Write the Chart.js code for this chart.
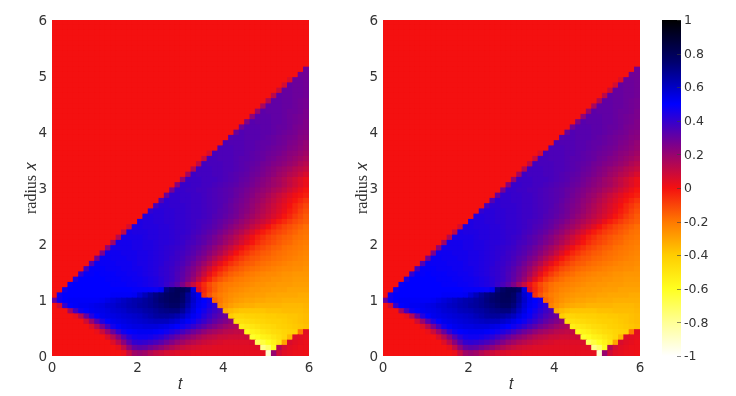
<!DOCTYPE html>
<html><head><meta charset="utf-8">
<style>html,body{margin:0;padding:0;background:#fff;width:736px;height:396px;overflow:hidden}canvas{position:absolute;top:0}</style>
<script src="https://cdn.jsdelivr.net/npm/chart.js@4"></script>
</head><body>
<canvas id="p1" width="320" height="396" style="left:0"></canvas>
<canvas id="p2" width="320" height="396" style="left:331px"></canvas>
<canvas id="cb" width="96" height="396" style="left:640px"></canvas>
<script>
// Field values in hundredths, 64 rows from x near 6 down to x near 0.
// Each row lists its right-hand cells up to t=6; the cells left of a short row hold 0.
const fieldRows=[
[],[],[],[],[],[],[],[],[],
[28],
[28,28],
[5,29,29,28],
[7,30,29,29,28],
[9,30,30,29,29,28],
[12,31,30,30,29,29,28],
[14,31,31,30,30,29,28,27],
[16,31,31,31,30,30,29,28,27],
[19,32,31,31,31,30,29,29,28,26],
[21,32,32,32,31,31,30,29,28,27,26],
[24,33,32,32,32,31,31,30,29,28,27,25],
[27,33,33,33,32,32,31,30,30,29,27,26,25],
[29,34,33,33,33,32,32,31,30,29,28,27,25,24],
[33,34,34,33,33,33,32,31,30,29,28,27,26,24,23],
[35,34,34,34,33,33,32,31,31,30,29,28,26,25,23,21],
[35,35,35,34,34,33,33,32,31,30,29,28,27,25,24,22,20],
[6,36,35,35,35,34,34,33,32,31,30,29,28,27,25,23,22,20,18],
[9,36,36,35,35,35,34,33,33,32,31,30,28,27,25,24,22,20,18,16],
[11,37,36,36,36,35,35,34,33,32,31,30,28,27,25,24,22,20,18,15,13],
[14,37,37,37,36,36,35,35,34,33,32,30,29,27,25,23,21,19,17,14,12,10],
[17,38,37,37,37,36,36,35,34,33,32,31,29,28,26,24,22,19,17,14,12,9,6],
[20,38,38,38,37,37,37,36,35,34,33,31,30,28,26,24,22,19,17,14,11,8,5,2],
[23,39,39,38,38,37,37,36,35,34,33,32,30,29,27,25,23,21,19,17,14,11,8,5,2],
[26,39,39,38,38,37,37,36,35,34,33,32,30,29,27,25,23,21,19,16,14,11,8,5,2,-1],
[29,40,40,39,39,38,38,37,36,35,34,33,32,30,28,26,24,21,19,16,13,10,7,4,1,-1,-3],
[33,41,40,40,39,39,38,38,37,36,35,34,33,31,29,27,25,22,20,17,14,11,8,5,2,-1,-4,-7],
[36,41,41,40,40,40,39,38,38,37,36,35,34,32,30,28,26,24,21,18,15,12,9,6,3,0,-4,-7,-10],
[40,42,42,41,41,40,40,39,38,38,37,36,35,33,32,30,28,25,23,20,17,14,11,8,5,2,-2,-5,-9,-12],
[43,43,42,42,41,41,40,40,39,38,38,37,36,34,33,31,29,27,24,21,18,15,12,9,6,3,-1,-4,-8,-11,-14],
[44,43,43,42,42,41,41,40,40,39,38,37,36,35,33,31,29,27,24,21,18,15,12,9,6,2,-2,-5,-8,-11,-13,-15],
[7,44,44,43,43,43,42,42,41,40,40,39,38,37,35,34,32,30,27,24,21,18,15,11,8,4,0,-4,-7,-10,-12,-14,-16,-18],
[11,45,44,44,44,43,43,42,42,41,40,40,39,37,36,34,32,30,27,24,21,17,14,10,6,2,-2,-5,-8,-10,-12,-14,-16,-18,-19],
[14,45,45,45,45,44,43,43,42,42,41,40,39,38,36,34,32,30,27,24,20,17,13,9,5,1,-3,-6,-9,-11,-13,-15,-16,-18,-19,-20],
[18,46,46,46,45,45,44,44,43,42,42,41,40,39,37,36,34,32,29,26,23,19,15,11,7,3,-1,-5,-8,-10,-12,-14,-16,-17,-19,-20,-21],
[22,46,46,46,46,45,45,44,44,43,42,41,40,39,38,36,34,32,29,26,22,18,14,10,5,1,-3,-6,-9,-11,-13,-15,-16,-18,-19,-20,-21,-22],
[25,47,47,47,46,46,46,45,45,44,43,42,41,40,38,37,35,33,30,27,23,19,15,10,5,0,-4,-7,-10,-12,-14,-15,-17,-18,-19,-20,-21,-22,-23],
[28,48,48,47,47,47,46,46,45,45,44,43,42,41,39,38,36,33,31,27,24,19,14,9,4,-1,-5,-8,-11,-13,-14,-16,-17,-18,-19,-20,-21,-22,-23,-24],
[33,48,48,48,48,47,47,47,46,45,45,44,43,42,40,39,37,35,32,28,24,19,14,8,3,-2,-6,-9,-12,-14,-15,-17,-18,-19,-20,-21,-22,-23,-24,-24,-25],
[37,49,49,49,48,48,48,47,47,46,46,45,44,43,41,40,38,36,33,29,25,20,14,8,2,-3,-7,-11,-13,-15,-17,-18,-19,-20,-21,-22,-23,-24,-24,-25,-25,-26],
[40,49,49,50,49,49,49,48,48,47,47,46,45,44,43,41,40,38,35,32,28,23,17,10,3,-3,-8,-12,-15,-17,-18,-20,-21,-22,-23,-24,-24,-25,-26,-26,-27,-27,-27],
[44,50,50,50,50,50,49,49,49,48,48,47,47,46,45,44,42,40,38,35,31,26,20,12,4,-3,-9,-13,-16,-18,-20,-21,-22,-23,-24,-25,-25,-26,-26,-27,-27,-28,-28,-28],
[48,50,50,50,50,50,50,50,49,49,49,48,48,47,46,45,44,42,39,36,32,26,18,10,2,-5,-11,-15,-18,-20,-21,-22,-23,-24,-25,-26,-26,-27,-27,-28,-28,-28,-29,-29,-29],
[46,50,50,50,50,50,50,50,50,50,50,50,50,49,49,49,49,48,52,72,77,80,80,76,55,6,-4,-10,-15,-19,-21,-23,-24,-25,-26,-27,-27,-28,-28,-29,-29,-29,-30,-30,-30,-30],
[46,50,50,50,50,50,50,50,50,50,51,51,51,51,52,57,62,67,71,74,77,79,80,77,68,58,52,-6,-13,-18,-21,-23,-25,-26,-27,-28,-28,-29,-29,-30,-30,-31,-31,-31,-31,-32,-32],
[30,47,50,51,51,51,51,51,51,52,54,56,58,60,62,64,65,67,69,72,75,77,79,79,76,68,59,53,50,46,-16,-20,-24,-26,-28,-29,-30,-30,-31,-31,-32,-32,-32,-33,-33,-33,-33,-33],
[8,40,50,51,52,52,53,54,55,57,58,60,61,63,64,66,67,69,71,73,75,77,77,73,65,57,52,49,45,40,-22,-26,-29,-31,-32,-33,-33,-34,-34,-34,-34,-34,-35,-35,-35,-35,-34],
[18,36,47,50,52,53,54,55,57,58,59,61,62,63,65,66,68,70,71,72,72,68,61,55,50,46,42,38,35,-32,-35,-37,-38,-38,-38,-38,-38,-37,-37,-37,-36,-36,-36,-36,-35],
[3,14,30,43,50,53,54,55,56,57,58,59,60,62,64,66,67,67,66,64,61,56,52,48,43,39,35,32,29,-40,-43,-43,-42,-42,-41,-41,-40,-40,-39,-39,-38,-38,-37,-36],
[8,20,33,44,50,53,54,55,56,57,58,59,60,61,61,61,59,57,54,51,47,43,39,35,31,28,25,22,-47,-47,-46,-45,-44,-43,-42,-41,-41,-40,-39,-38,-37,-36],
[5,14,26,37,46,51,53,54,55,55,56,56,56,55,54,52,50,47,44,40,36,32,28,25,22,19,17,15,-53,-51,-50,-48,-46,-45,-44,-42,-41,-40,-39,-38,-37],
[2,9,19,30,40,47,50,51,52,52,52,51,49,47,44,41,37,33,29,26,22,19,17,15,13,12,11,11,-58,-55,-53,-50,-48,-46,-45,-43,-42,-41,-20,4],
[6,14,24,34,42,46,47,47,46,44,42,38,34,30,26,23,20,17,14,12,11,9,9,8,8,8,9,-62,-59,-55,-53,-50,-47,-44,-35,5,4,3],
[5,13,23,33,40,41,40,38,36,33,29,25,21,18,15,13,11,9,8,7,6,5,5,5,5,5,6,-70,-65,-60,-55,-50,-30,6,4,3,2],
[3,11,22,30,32,31,28,25,22,18,15,12,10,8,7,6,5,5,4,4,4,4,4,4,4,4,5,-78,-72,-60,14,7,4,3,2,2],
[2,10,18,20,18,14,11,9,7,6,5,4,4,3,3,3,3,3,3,3,3,3,3,3,3,3,3,-90,20,8,4,3,2,2,1]
];
const columnCount=48, tTicksStep=2, xTicksStep=1, axisMax=6;
const stopValues=[-1,-0.8,-0.6,-0.4,-0.2,0,0.25,0.5,0.75,1];
const stopColors=[[255,255,255],[255,255,150],[255,255,32],[255,205,0],[255,120,0],[244,16,16],[128,0,136],[0,0,255],[0,0,110],[0,0,0]];
const cbTickStep=0.2;

function colorOf(v){
  if(v<=stopValues[0])return 'rgb('+stopColors[0]+')';
  for(let k=1;k<stopValues.length;k++){
    if(v<=stopValues[k]){
      const f=(v-stopValues[k-1])/(stopValues[k]-stopValues[k-1]);
      const a=stopColors[k-1],b=stopColors[k];
      return `rgb(${a[0]+(b[0]-a[0])*f},${a[1]+(b[1]-a[1])*f},${a[2]+(b[2]-a[2])*f})`;
    }
  }
  return 'rgb('+stopColors[stopColors.length-1]+')';
}
const rows=fieldRows.length,cellT=axisMax/columnCount,cellX=axisMax/rows;
const cells=[];
fieldRows.forEach((r,j)=>{
  const bottom=axisMax-(j+1)*cellX, lead=columnCount-r.length;
  for(let i=0;i<columnCount;i++){
    const v=i<lead?0:r[i-lead];
    cells.push({x:(i+.5)*cellT,y:[bottom,bottom+cellX],v:v/100});
  }
});
const textColor='#333';
const tickFont={family:'"DejaVu Sans"',size:13.5};
const cbFont={family:'"DejaVu Sans"',size:12.5};
const titleFont={family:'"Liberation Serif"',size:16};
function panel(id){
  new Chart(document.getElementById(id),{
    type:'bar',
    data:{datasets:[{data:cells,backgroundColor:c=>colorOf(c.raw.v),borderWidth:0,inflateAmount:0.6,barPercentage:1,categoryPercentage:1}]},
    options:{responsive:false,animation:false,events:[],
      layout:{padding:{top:20,right:11,left:0,bottom:0}},
      plugins:{legend:{display:false},tooltip:{enabled:false}},
      scales:{
        x:{type:'linear',offset:false,min:0,max:axisMax,grid:{display:false,drawTicks:false},border:{display:false},
           ticks:{stepSize:tTicksStep,color:textColor,font:tickFont,padding:4,maxRotation:0},
           title:{display:true,text:'𝑡',color:textColor,font:titleFont,padding:{top:0,bottom:2}},
           afterFit:s=>{s.height=40}},
        y:{type:'linear',min:0,max:axisMax,grid:{display:false,drawTicks:false},border:{display:false},
           ticks:{stepSize:xTicksStep,color:textColor,font:tickFont,padding:5,labelOffset:1.5},
           title:{display:true,text:'radius 𝑥',color:textColor,font:titleFont,padding:{top:22,bottom:0}},
           afterFit:s=>{s.width=52}}
      }}
  });
}
panel('p1');panel('p2');
new Chart(document.getElementById('cb'),{
  type:'bar',
  data:{labels:['c'],datasets:[{data:[[-1,1]],borderWidth:0,barPercentage:1,categoryPercentage:1,
    backgroundColor:c=>{
      const ch=c.chart,a=ch.chartArea;if(!a)return '#f00';
      const sy=ch.scales.y,g=ch.ctx.createLinearGradient(0,sy.getPixelForValue(-1),0,sy.getPixelForValue(1));
      stopValues.forEach((v,k)=>g.addColorStop((v+1)/2,'rgb('+stopColors[k]+')'));
      return g;
    }}]},
  options:{responsive:false,animation:false,events:[],
    layout:{padding:{top:20,bottom:40,left:22,right:0}},
    plugins:{legend:{display:false},tooltip:{enabled:false}},
    scales:{
      x:{display:false},
      y:{position:'right',min:-1,max:1,grid:{display:false,drawTicks:false},border:{display:false},
         ticks:{stepSize:cbTickStep,color:textColor,font:cbFont,padding:3,labelOffset:1,callback:v=>String(Math.round(v*10)/10)},
         afterFit:s=>{s.width=55}}
    }},
  plugins:[{id:'inTicks',afterDatasetsDraw(ch){
    const s=ch.scales.y,a=ch.chartArea,c=ch.ctx;c.save();c.strokeStyle='rgba(60,60,60,.6)';c.lineWidth=1;
    s.ticks.forEach((t,i)=>{const y=Math.round(s.getPixelForTick(i))+.5;c.beginPath();c.moveTo(a.right-4,y);c.lineTo(a.right,y);c.stroke();});
    c.restore();
  }}]
});
</script>
</body></html>
